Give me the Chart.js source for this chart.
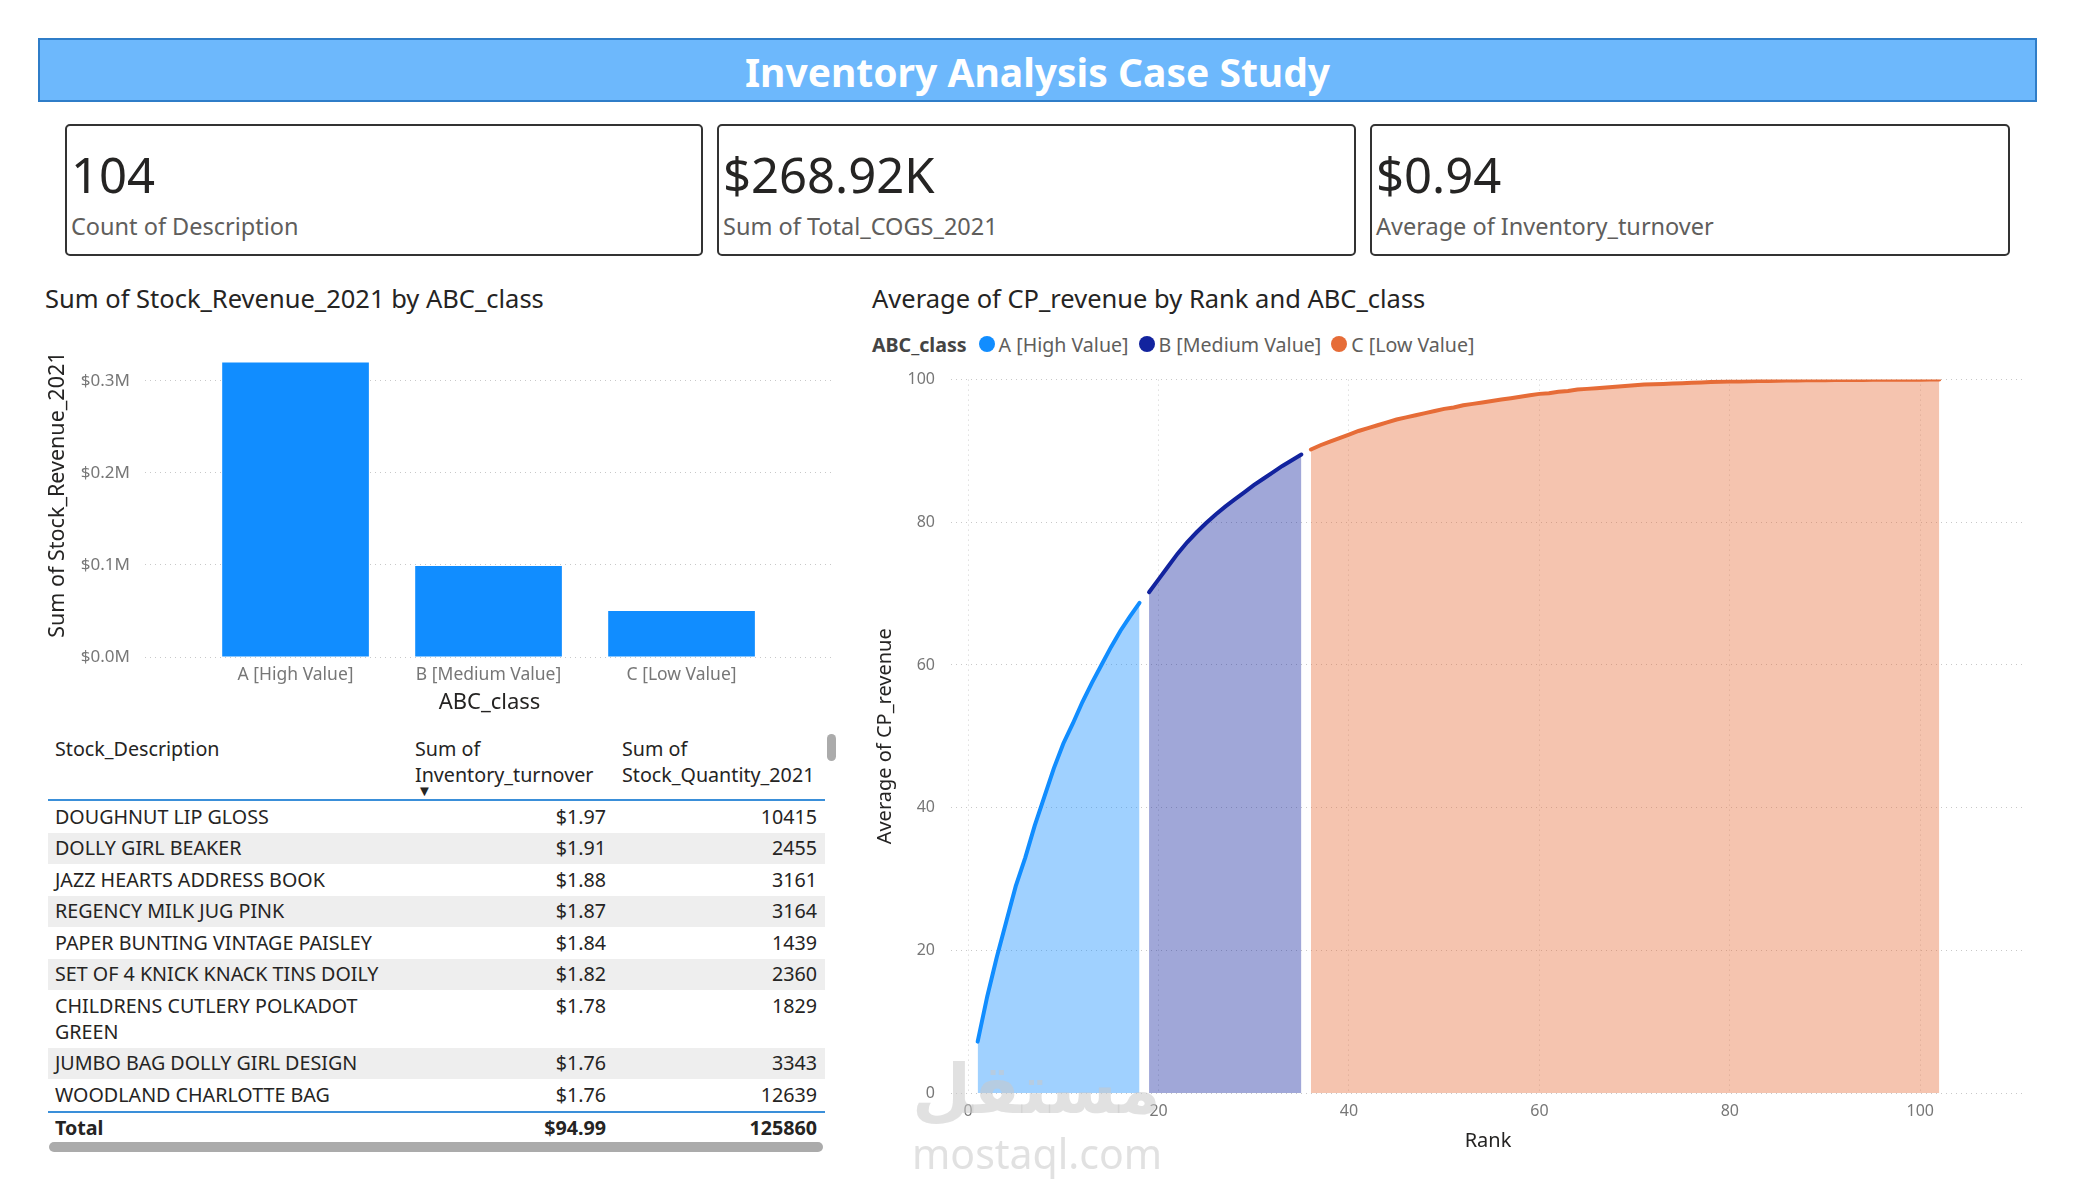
<!DOCTYPE html>
<html>
<head>
<meta charset="utf-8">
<title>Inventory Analysis Case Study</title>
<script src="https://cdn.jsdelivr.net/npm/chart.js@4.4.1/dist/chart.umd.min.js"></script>
<style>
  body { margin: 0; width: 2075px; height: 1200px; background: #fff; position: relative; overflow: hidden;
         font-family: 'Segoe UI', 'Noto Sans', sans-serif; color: #252423; }
  .abs { position: absolute; white-space: nowrap; line-height: 1; }
  .header { position: absolute; left: 38px; top: 38px; width: 1999px; height: 64px; background: #6DB8FC;
            border: 2px solid #2F7DC8; box-sizing: border-box; }
  .header-title { left: 38px; width: 1999px; top: 52px; text-align: center; color: #fff; font-weight: bold; font-size: 39px; }
  .card { position: absolute; top: 124px; height: 132px; border: 2px solid #333; border-radius: 5px; box-sizing: border-box; }
  .kpi-value { font-size: 49px; color: #252423; }
  .kpi-label { font-size: 23.5px; color: #605E5C; }
  .chart-title { font-size: 25.5px; color: #252423; }
  #legend { position: absolute; left: 872px; top: 332px; height: 24px; display: flex; align-items: center; font-size: 19.6px; color: #605E5C; white-space: nowrap; }
  #legend b { color: #444; margin-right: 12px; }
  #legend .item { display: flex; align-items: center; margin-right: 10px; }
  #legend .dot { width: 16px; height: 16px; border-radius: 50%; margin-right: 4px; }
  canvas { position: absolute; }
  #table { position: absolute; left: 48px; top: 734px; width: 777px; font-size: 19.7px; color: #252423; }
  .thead { position: relative; height: 65px; border-bottom: 2px solid #3A8FD9; }
  .thead .h { position: absolute; top: 2px; line-height: 26px; color: #252423; }
  .row { display: flex; line-height: 26px; padding: 2.75px 0; }
  .row.alt { background: #EEEEEE; }
  .c1 { width: 353px; padding-left: 7px; white-space: normal; }
  .c2 { width: 198px; text-align: right; padding-right: 8px; }
  .c3 { width: 203px; text-align: right; padding-right: 8px; }
  .total { border-top: 2px solid #3A8FD9; font-weight: bold; }
  .hscroll { position: absolute; left: 49px; top: 1142px; width: 774px; height: 10px; border-radius: 5px; background: #ABABAB; }
  .vscroll { position: absolute; left: 827px; top: 734px; width: 9px; height: 27px; border-radius: 5px; background: #ABABAB; }
  .wm { position: absolute; color: rgba(200,200,200,0.55); white-space: nowrap; line-height: 1; z-index: 5; }
</style>
</head>
<body>

<div class="header"></div>
<div class="abs header-title">Inventory Analysis Case Study</div>

<div id="cards"></div>

<div class="abs chart-title" style="left:45px; top:286px;">Sum of Stock_Revenue_2021 by ABC_class</div>
<div class="abs chart-title" style="left:872px; top:286px;">Average of CP_revenue by Rank and ABC_class</div>
<div id="legend"></div>

<canvas id="barChart" width="800" height="413" style="left:40px; top:307px;"></canvas>
<canvas id="areaChart" width="1180" height="816" style="left:860px; top:354px;"></canvas>

<div id="table"></div>
<div class="vscroll"></div>
<div class="hscroll"></div>

<div class="wm" style="left:912px; top:1056px; font-size:68px; font-weight:bold; font-family:'DejaVu Sans',sans-serif;">مستقل</div>
<div class="wm" style="left:912px; top:1133px; font-size:41px;">mostaql.com</div>

<script>
// KPI cards
const kpiValues = ['104', '$268.92K', '$0.94'];
const kpiLabels = ['Count of Description', 'Sum of Total_COGS_2021', 'Average of Inventory_turnover'];

// Bar chart: Sum of Stock_Revenue_2021 by ABC_class
const abcClasses = ['A [High Value]', 'B [Medium Value]', 'C [Low Value]'];
const stockRevenue = [320000, 98900, 50000];
const revenueTicks = [0, 100000, 200000, 300000];

// Area chart: Average of CP_revenue by Rank and ABC_class
const ranksA = [1, 2, 3, 4, 5, 6, 7, 8, 9, 10, 11, 12, 13, 14, 15, 16, 17, 18];
const cpRevenueA = [7.2, 13.5, 19.0, 24.0, 29.0, 33.0, 37.5, 41.5, 45.5, 49.0, 51.8, 54.8, 57.5, 60.0, 62.5, 64.8, 66.8, 68.7];
const ranksB = [19, 20, 21, 22, 23, 24, 25, 26, 27, 28, 29, 30, 31, 32, 33, 34, 35];
const cpRevenueB = [70.2, 72.0, 73.8, 75.6, 77.2, 78.6, 79.9, 81.1, 82.2, 83.2, 84.2, 85.2, 86.1, 87.0, 87.9, 88.7, 89.5];
const ranksC = [36, 37, 38, 39, 40, 41, 42, 43, 44, 45, 46, 47, 48, 49, 50, 51, 52, 53, 54, 55,
                56, 57, 58, 59, 60, 61, 62, 63, 64, 65, 66, 67, 68, 69, 70, 71, 72, 73, 74, 75,
                76, 77, 78, 79, 80, 81, 82, 83, 84, 85, 86, 87, 88, 89, 90, 91, 92, 93, 94, 95,
                96, 97, 98, 99, 100, 101, 102];
const cpRevenueC = [90.2, 90.8, 91.3, 91.8, 92.3, 92.8, 93.2, 93.6, 94.0, 94.4, 94.7, 95.0, 95.3, 95.6, 95.9, 96.1, 96.4, 96.6, 96.8, 97.0,
                    97.2, 97.4, 97.6, 97.8, 98.0, 98.1, 98.3, 98.4, 98.6, 98.7, 98.8, 98.9, 99.0, 99.1, 99.2, 99.3, 99.35, 99.4, 99.45, 99.5,
                    99.55, 99.6, 99.65, 99.7, 99.72, 99.75, 99.78, 99.8, 99.82, 99.84, 99.86, 99.88, 99.9, 99.91, 99.92, 99.93, 99.94, 99.95, 99.96, 99.97,
                    99.97, 99.98, 99.98, 99.99, 99.99, 100, 100];
const rankTicks = [0, 20, 40, 60, 80, 100];
const cpTicks = [0, 20, 40, 60, 80, 100];

// Table
const stockDescriptions = ['DOUGHNUT LIP GLOSS', 'DOLLY GIRL BEAKER', 'JAZZ HEARTS ADDRESS BOOK', 'REGENCY MILK JUG PINK',
  'PAPER BUNTING VINTAGE PAISLEY', 'SET OF 4 KNICK KNACK TINS DOILY', 'CHILDRENS CUTLERY POLKADOT GREEN',
  'JUMBO BAG DOLLY GIRL DESIGN', 'WOODLAND CHARLOTTE BAG'];
const inventoryTurnover = [1.97, 1.91, 1.88, 1.87, 1.84, 1.82, 1.78, 1.76, 1.76];
const stockQuantity = [10415, 2455, 3161, 3164, 1439, 2360, 1829, 3343, 12639];
const totalTurnover = 94.99;
const totalQuantity = 125860;

const classColors = ['#118DFF', '#12239E', '#E66C37'];
const classFills = ['rgba(17,141,255,0.4)', 'rgba(18,35,158,0.4)', 'rgba(230,108,55,0.4)'];

Chart.defaults.font.family = "'Segoe UI', 'Noto Sans', sans-serif";

// KPI cards
const cardLefts = [65, 717, 1370];
const cardWidths = [638, 639, 640];
const cardsEl = document.getElementById('cards');
kpiValues.forEach((v, i) => {
    cardsEl.insertAdjacentHTML('beforeend',
        `<div class="card" style="left:${cardLefts[i]}px; width:${cardWidths[i]}px;"></div>
         <div class="abs kpi-value" style="left:${cardLefts[i] + 6}px; top:150px;">${v}</div>
         <div class="abs kpi-label" style="left:${cardLefts[i] + 6}px; top:215px;">${kpiLabels[i]}</div>`);
});

// Legend
const legendEl = document.getElementById('legend');
legendEl.innerHTML = '<b>ABC_class</b>' + abcClasses.map((c, i) =>
    `<span class="item"><span class="dot" style="background:${classColors[i]}"></span>${c}</span>`).join('');

// Bar chart
new Chart(document.getElementById('barChart'), {
    type: 'bar',
    data: {
        datasets: [{
            data: abcClasses.map((c, i) => ({ x: i, y: stockRevenue[i] })),
            backgroundColor: '#118DFF',
            categoryPercentage: 0.8,
            barPercentage: 0.95
        }]
    },
    options: {
        responsive: false,
        animation: false,
        layout: { padding: { left: 0, right: 6, top: 0, bottom: 0 } },
        plugins: { legend: { display: false }, tooltip: { enabled: false } },
        scales: {
            x: {
                type: 'linear',
                offset: false,
                min: -0.78,
                max: 2.79,
                grid: { display: false, drawTicks: false },
                border: { display: false },
                afterBuildTicks: s => { s.ticks = abcClasses.map((c, i) => ({ value: i })); },
                afterFit: s => { s.height = 63; },
                ticks: { callback: v => abcClasses[v], padding: 8, font: { size: 17.5 }, color: '#777', maxRotation: 0 },
                title: { display: true, text: 'ABC_class', font: { size: 22 }, color: '#252423', padding: { top: 0, bottom: 4 } }
            },
            y: {
                min: 0,
                max: 353000,
                afterBuildTicks: s => { s.ticks = revenueTicks.map(v => ({ value: v })); },
                afterFit: s => { s.width = 105; },
                grid: { color: '#C8C8C8', lineWidth: 1, drawTicks: false },
                border: { display: false, dash: [1, 4] },
                ticks: { callback: v => '$' + (v / 1e6).toFixed(1) + 'M', padding: 15, font: { size: 17 }, color: '#777' },
                title: { display: true, text: 'Sum of Stock_Revenue_2021', font: { size: 21.5 }, color: '#252423', padding: { top: 5, bottom: 0 } }
            }
        }
    }
});

// Area chart
const areaSets = [[ranksA, cpRevenueA], [ranksB, cpRevenueB], [ranksC, cpRevenueC]];
new Chart(document.getElementById('areaChart'), {
    type: 'line',
    data: {
        datasets: areaSets.map(([ranks, vals], i) => ({
            label: abcClasses[i],
            data: ranks.map((r, j) => ({ x: r, y: vals[j] })),
            borderColor: classColors[i],
            backgroundColor: classFills[i],
            fill: 'origin',
            borderWidth: 4,
            borderCapStyle: 'round',
            pointRadius: 0,
            tension: 0
        }))
    },
    options: {
        responsive: false,
        animation: false,
        layout: { padding: { left: 0, right: 15, top: 0, bottom: 0 } },
        plugins: { legend: { display: false }, tooltip: { enabled: false } },
        scales: {
            x: {
                type: 'linear',
                min: -1.8,
                max: 111,
                afterBuildTicks: s => { s.ticks = rankTicks.map(v => ({ value: v })); },
                afterFit: s => { s.height = 77; },
                grid: { color: '#D0D0D0', drawTicks: false },
                border: { display: false, dash: [1, 4] },
                ticks: { padding: 9, font: { size: 16 }, color: '#777', maxRotation: 0 },
                title: { display: true, text: 'Rank', font: { size: 20 }, color: '#252423', padding: { top: 0, bottom: 17 } }
            },
            y: {
                min: 0,
                max: 100,
                afterBuildTicks: s => { s.ticks = cpTicks.map(v => ({ value: v })); },
                afterFit: s => { s.width = 91; },
                grid: { color: '#C8C8C8', drawTicks: false },
                border: { display: false, dash: [1, 4] },
                ticks: { padding: 16, font: { size: 16 }, color: '#777' },
                title: { display: true, text: 'Average of CP_revenue', font: { size: 20 }, color: '#252423', padding: { top: 13, bottom: 0 } }
            }
        }
    }
});

// Table
const tableEl = document.getElementById('table');
let html = `<div class="thead">
    <div class="h" style="left:7px;">Stock_Description</div>
    <div class="h" style="left:367px;">Sum of<br>Inventory_turnover</div>
    <div class="h" style="left:574px;">Sum of<br>Stock_Quantity_2021</div>
    <div class="abs" style="left:369px; top:49px; font-size:15px;">&#9660;</div>
</div>`;
stockDescriptions.forEach((d, i) => {
    html += `<div class="row${i % 2 === 1 ? ' alt' : ''}">
        <div class="c1">${d}</div>
        <div class="c2">$${inventoryTurnover[i].toFixed(2)}</div>
        <div class="c3">${stockQuantity[i]}</div></div>`;
});
html += `<div class="row total">
    <div class="c1">Total</div>
    <div class="c2">$${totalTurnover.toFixed(2)}</div>
    <div class="c3">${totalQuantity}</div></div>`;
tableEl.innerHTML = html;
</script>
</body>
</html>
